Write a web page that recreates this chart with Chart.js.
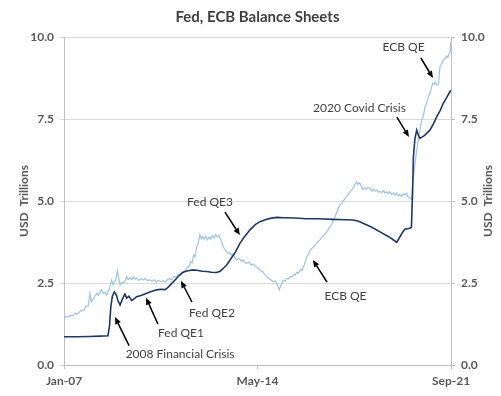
<!DOCTYPE html>
<html><head><meta charset="utf-8">
<script src="https://cdn.jsdelivr.net/npm/chart.js@4.4.0/dist/chart.umd.min.js"></script>
<style>html,body{margin:0;padding:0;background:#fff;}#wrap{width:501px;height:396px;}</style>
</head><body><div id="wrap"><canvas id="c" width="501" height="396"></canvas></div>
<script>
// ---- data (months since Jan-2007, USD trillions) ----
const chartTitle = 'Fed, ECB Balance Sheets';
const yAxisTitle = 'USD  Trillions';
const xTickMonths = [0, 88, 176];
const xTickLabels = ['Jan-07', 'May-14', 'Sep-21'];
const yTickValues = [0, 2.5, 5, 7.5, 10];

const fedMonths = [0,6,11.8,16,20,20.7,21.3,22,22.9,23.8,24.6,25.5,26.5,27.7,28.5,29.5,30.8,32,33,35,37.6,40,42.1,44,45.9,46.7,48.5,50.5,52,53.5,55,57,58.8,61,63,65,67,69.4,71,72.5,74,75.5,78,80,82,84.6,87,89.1,91.5,93.7,96.7,100,105,110,116,122.3,128,131.4,134,136,140,143.7,147.5,150.5,151.3,152.8,154,155,157.3,158,158.5,158.9,159.6,160.4,161.2,161.9,164,166.4,168,169.5,171,172.5,174,175.5,176];
const fedValues = [0.86,0.86,0.87,0.88,0.89,1.2,1.78,2.1,2.23,2.13,1.95,1.83,2.0,2.16,2.04,2.1,1.96,2.02,2.08,2.12,2.19,2.25,2.29,2.31,2.30,2.33,2.45,2.59,2.7,2.8,2.85,2.88,2.9,2.88,2.86,2.85,2.83,2.82,2.86,2.95,3.05,3.2,3.45,3.71,3.9,4.12,4.28,4.37,4.43,4.47,4.5,4.49,4.48,4.46,4.46,4.44,4.43,4.42,4.38,4.32,4.2,4.06,3.92,3.78,3.74,3.91,4.05,4.14,4.17,4.2,5.2,6.35,6.9,7.16,7.0,6.91,7.0,7.16,7.35,7.57,7.75,7.98,8.15,8.33,8.38];

const ecbMonths = [0,1,2,3,4,5,6,7,8,9,10,11,11.8,12.4,13.2,14,14.9,15.6,16.3,17.1,17.8,18.6,19.4,20.5,21.7,22.3,22.9,23.6,24.3,25,25.5,26.2,27,27.8,28.5,29.2,30,30.8,31.5,32.3,33,34,35,36,37,38,39,40,41,42,43,44,45,46,47,48,49,50,51,52,53,54,55,55.8,56.8,57.6,58.3,59,59.6,60.3,61,61.8,62.4,63,63.8,64.5,65.3,66,66.8,67.5,68.3,69,69.8,70.5,71.2,71.7,72.5,73.2,74,74.8,75.5,76.3,77,77.8,78.5,79.3,80,80.8,81.5,82.3,83.1,84,85,86,87,87.6,88.5,89.3,90.5,91.3,92.2,93,94,95,96,97,97.9,98.7,99.7,100.5,101.3,102,102.8,103.7,104.5,105.2,105.8,106.6,107.5,108.2,108.8,109.5,110.4,111.2,111.9,112.7,113.5,114.2,114.9,115.7,116.5,117.3,118,118.8,119.5,120.3,121,121.8,122.5,123.3,124,124.8,125.5,126.2,127,127.8,128.5,129.3,130,130.8,131.6,132.3,133.1,133.6,134.2,134.8,135.3,136.1,136.8,137.5,138.3,139.2,140,140.8,141.5,142.3,143,143.7,144.5,145.3,146,146.8,147.5,148.2,149,149.8,150.5,151.3,152,152.8,153.5,154.3,155,155.8,156.5,157.3,158,158.9,159.6,160.4,161,161.6,162.2,162.7,163.5,164.2,165,165.7,166.5,167.2,167.8,168.5,169,169.5,170.3,171,171.8,172.5,173.3,174,174.6,175,175.6,176];
const ecbValues = [1.44,1.48,1.46,1.51,1.50,1.58,1.55,1.62,1.68,1.66,1.78,1.80,2.18,1.92,2.02,2.08,2.19,2.12,2.22,2.29,2.18,2.22,2.13,2.3,2.59,2.45,2.52,2.62,2.88,2.6,2.44,2.52,2.49,2.58,2.69,2.6,2.66,2.6,2.68,2.62,2.66,2.58,2.63,2.6,2.64,2.57,2.6,2.55,2.6,2.53,2.58,2.54,2.57,2.53,2.6,2.63,2.6,2.7,2.68,2.76,2.74,2.84,2.86,2.95,3.0,3.15,3.12,3.35,3.3,3.61,3.7,3.98,3.85,3.92,3.84,3.93,3.82,3.9,3.84,3.95,3.88,3.98,3.9,3.96,3.85,3.75,3.6,3.52,3.45,3.4,3.42,3.35,3.38,3.27,3.2,3.25,3.22,3.16,3.2,3.12,3.1,3.14,3.05,3.08,3.0,2.98,2.95,2.88,2.84,2.76,2.69,2.65,2.6,2.55,2.56,2.45,2.29,2.45,2.59,2.55,2.64,2.62,2.7,2.68,2.76,2.74,2.82,2.8,2.9,2.88,2.97,3.1,3.3,3.4,3.5,3.55,3.6,3.66,3.71,3.78,3.82,3.9,3.95,4.0,4.06,4.15,4.22,4.3,4.42,4.52,4.65,4.78,4.88,4.92,5.0,5.08,5.13,5.2,5.28,5.33,5.4,5.5,5.58,5.5,5.56,5.52,5.42,5.34,5.4,5.36,5.42,5.38,5.3,5.36,5.3,5.34,5.27,5.3,5.25,5.32,5.24,5.28,5.22,5.28,5.2,5.24,5.18,5.24,5.16,5.2,5.14,5.22,5.18,5.24,5.12,5.08,5.05,5.74,6.1,6.55,6.8,7.06,7.3,7.47,7.6,7.88,8.0,8.18,8.3,8.48,8.6,8.56,8.62,8.54,8.55,9.1,9.2,9.3,9.35,9.42,9.38,9.48,9.55,9.86];

// annotations: label anchor and arrow (tail -> head), in data coordinates
const annotations = [
  {text: '2008 Financial Crisis', tx: 52.8, ty: 0.34, x0: 29.6, y0: 0.59, x1: 23.2, y1: 1.46},
  {text: 'Fed QE1', tx: 53.2, ty: 0.98, x0: 42.7, y0: 1.25, x1: 37.3, y1: 2.05},
  {text: 'Fed QE2', tx: 67.3, ty: 1.59, x0: 58.2, y0: 1.92, x1: 53.2, y1: 2.56},
  {text: 'Fed QE3', tx: 66.4, ty: 4.97, x0: 73.2, y0: 4.66, x1: 80.0, y1: 3.96},
  {text: 'ECB QE', tx: 128.0, ty: 2.10, x0: 119.6, y0: 2.53, x1: 113.2, y1: 3.20},
  {text: '2020 Covid Crisis', tx: 134.4, ty: 7.84, x0: 151.4, y0: 7.56, x1: 156.9, y1: 6.95},
  {text: 'ECB QE', tx: 154.4, ty: 9.70, x0: 162.3, y0: 9.36, x1: 167.8, y1: 8.75}
];

const FONT = "'Lato', 'DejaVu Sans', sans-serif";
const TEXT = '#595959';
const GRID = '#d9d9d9';
const AXIS = '#bfbfbf';

const toXY = (xs, ys) => xs.map((m, i) => ({x: m, y: ys[i]}));

const overlay = {
  id: 'overlay',
  afterDraw(chart) {
    const ctx = chart.ctx, ca = chart.chartArea;
    const xs = chart.scales.x, ys = chart.scales.y;
    ctx.save();
    ctx.fillStyle = '#404040';
    ctx.font = "bold 15px " + FONT;
    ctx.textAlign = 'center';
    ctx.textBaseline = 'middle';
    ctx.fillText(chartTitle, (ca.left + ca.right) / 2, 17);
    ctx.save();
    ctx.translate(488, (ca.top + ca.bottom) / 2);
    ctx.rotate(-Math.PI / 2);
    ctx.font = "bold 12px " + FONT;
    ctx.fillStyle = TEXT;
    ctx.fillText(yAxisTitle, 0, 0);
    ctx.restore();
    annotations.forEach(a => {
      ctx.font = "12px " + FONT;
      ctx.fillStyle = '#404040';
      ctx.textAlign = 'center';
      ctx.textBaseline = 'middle';
      ctx.fillText(a.text, xs.getPixelForValue(a.tx), ys.getPixelForValue(a.ty));
      const px0 = xs.getPixelForValue(a.x0), py0 = ys.getPixelForValue(a.y0);
      const px1 = xs.getPixelForValue(a.x1), py1 = ys.getPixelForValue(a.y1);
      const ang = Math.atan2(py1 - py0, px1 - px0);
      const hl = 7, hw = 3;
      const bx = px1 - hl * Math.cos(ang), by = py1 - hl * Math.sin(ang);
      ctx.strokeStyle = '#000';
      ctx.lineWidth = 1.5;
      ctx.beginPath();
      ctx.moveTo(px0, py0);
      ctx.lineTo(bx, by);
      ctx.stroke();
      ctx.fillStyle = '#000';
      ctx.beginPath();
      ctx.moveTo(px1, py1);
      ctx.lineTo(bx + hw * Math.sin(ang), by - hw * Math.cos(ang));
      ctx.lineTo(bx - hw * Math.sin(ang), by + hw * Math.cos(ang));
      ctx.closePath();
      ctx.fill();
    });
    ctx.restore();
  }
};

new Chart(document.getElementById('c'), {
  type: 'line',
  data: {
    datasets: [
      {label: 'Fed', data: toXY(fedMonths, fedValues), borderColor: '#1f3864', borderWidth: 1.6, pointRadius: 0, tension: 0, fill: false},
      {label: 'ECB', data: toXY(ecbMonths, ecbValues), borderColor: '#9dc3e6', borderWidth: 1.2, pointRadius: 0, tension: 0, fill: false}
    ]
  },
  options: {
    responsive: false,
    animation: false,
    devicePixelRatio: 1,
    layout: {padding: {top: 37, left: 0, right: 0, bottom: 0}},
    plugins: {legend: {display: false}, tooltip: {enabled: false}, title: {display: false}},
    scales: {
      x: {
        type: 'linear', position: 'bottom', min: 0, max: 176,
        afterBuildTicks: s => { s.ticks = xTickMonths.map(v => ({value: v})); },
        afterFit: s => { s.height = 31; },
        ticks: {autoSkip: false, maxRotation: 0, padding: 5, color: TEXT, font: {family: FONT, size: 12, weight: 'bold'},
          callback: v => xTickLabels[xTickMonths.indexOf(v)]},
        grid: {drawOnChartArea: false, tickLength: 4, color: AXIS},
        border: {color: AXIS}
      },
      y: {
        type: 'linear', position: 'left', min: 0, max: 10,
        afterBuildTicks: s => { s.ticks = yTickValues.map(v => ({value: v})); },
        afterFit: s => { s.width = 64; },
        ticks: {padding: 6, color: TEXT, font: {family: FONT, size: 12, weight: 'bold'}, callback: v => v.toFixed(1)},
        grid: {color: GRID, tickLength: 4},
        border: {color: AXIS},
        title: {display: true, text: yAxisTitle, color: TEXT, font: {family: FONT, size: 12, weight: 'bold'}, padding: {top: 17, bottom: 0}}
      },
      y2: {
        type: 'linear', position: 'right', min: 0, max: 10,
        afterBuildTicks: s => { s.ticks = yTickValues.map(v => ({value: v})); },
        afterFit: s => { s.width = 50; },
        ticks: {padding: 6, color: TEXT, font: {family: FONT, size: 12, weight: 'bold'}, callback: v => v.toFixed(1)},
        grid: {drawOnChartArea: false, tickLength: 4, color: AXIS},
        border: {color: AXIS}
      }
    }
  },
  plugins: [overlay]
});
</script>
</body></html>
